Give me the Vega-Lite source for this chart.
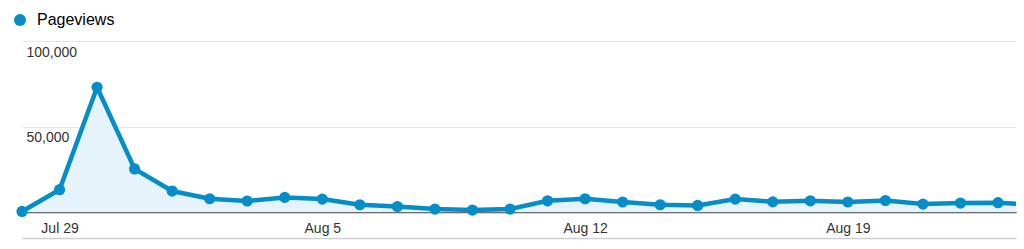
{
  "$schema": "https://vega.github.io/schema/vega-lite/v6.json",
  "width": 994,
  "height": 197,
  "autosize": {"type": "none"},
  "padding": {"left": 22, "top": 41, "right": 8, "bottom": 11},
  "background": "white",
  "config": {"view": {"stroke": null}, "font": "Liberation Sans"},
  "data": {
    "values": [
      {"date": "2013-07-28", "series": "Pageviews", "pageviews": 500},
      {"date": "2013-07-29", "series": "Pageviews", "pageviews": 13200},
      {"date": "2013-07-30", "series": "Pageviews", "pageviews": 73000},
      {"date": "2013-07-31", "series": "Pageviews", "pageviews": 25300},
      {"date": "2013-08-01", "series": "Pageviews", "pageviews": 12400},
      {"date": "2013-08-02", "series": "Pageviews", "pageviews": 7900},
      {"date": "2013-08-03", "series": "Pageviews", "pageviews": 6600},
      {"date": "2013-08-04", "series": "Pageviews", "pageviews": 8700},
      {"date": "2013-08-05", "series": "Pageviews", "pageviews": 7700},
      {"date": "2013-08-06", "series": "Pageviews", "pageviews": 4400},
      {"date": "2013-08-07", "series": "Pageviews", "pageviews": 3400},
      {"date": "2013-08-08", "series": "Pageviews", "pageviews": 1900},
      {"date": "2013-08-09", "series": "Pageviews", "pageviews": 1300},
      {"date": "2013-08-10", "series": "Pageviews", "pageviews": 1900},
      {"date": "2013-08-11", "series": "Pageviews", "pageviews": 6700},
      {"date": "2013-08-12", "series": "Pageviews", "pageviews": 7900},
      {"date": "2013-08-13", "series": "Pageviews", "pageviews": 6000},
      {"date": "2013-08-14", "series": "Pageviews", "pageviews": 4400},
      {"date": "2013-08-15", "series": "Pageviews", "pageviews": 4000},
      {"date": "2013-08-16", "series": "Pageviews", "pageviews": 7700},
      {"date": "2013-08-17", "series": "Pageviews", "pageviews": 6100},
      {"date": "2013-08-18", "series": "Pageviews", "pageviews": 6700},
      {"date": "2013-08-19", "series": "Pageviews", "pageviews": 6000},
      {"date": "2013-08-20", "series": "Pageviews", "pageviews": 6900},
      {"date": "2013-08-21", "series": "Pageviews", "pageviews": 4800},
      {"date": "2013-08-22", "series": "Pageviews", "pageviews": 5400},
      {"date": "2013-08-23", "series": "Pageviews", "pageviews": 5600},
      {"date": "2013-08-24", "series": "Pageviews", "pageviews": 4400}
    ]
  },
  "encoding": {
    "x": {
      "field": "date",
      "type": "temporal",
      "scale": {
        "type": "utc",
        "domain": [
          {"year": 2013, "month": 7, "date": 28, "utc": true},
          {"year": 2013, "month": 8, "date": 23, "hours": 11, "minutes": 30, "utc": true}
        ]
      },
      "axis": {
        "title": null,
        "values": [
          {"year": 2013, "month": 7, "date": 29, "utc": true},
          {"year": 2013, "month": 8, "date": 5, "utc": true},
          {"year": 2013, "month": 8, "date": 12, "utc": true},
          {"year": 2013, "month": 8, "date": 19, "utc": true}
        ],
        "labelExpr": "utcFormat(datum.value, '%b %-d')",
        "ticks": false,
        "tickSize": 0,
        "grid": false,
        "domainColor": "#d0d0d0",
        "domainWidth": 1.5,
        "labelFont": "Liberation Sans",
        "labelFontSize": 14,
        "labelColor": "#333333",
        "labelPadding": -17,
        "labelFlush": false,
        "labelOverlap": false
      }
    },
    "y": {
      "field": "pageviews",
      "type": "quantitative",
      "scale": {"domain": [-15000, 100000], "nice": false, "zero": false},
      "axis": {
        "title": null,
        "values": [0, 50000, 100000],
        "labelExpr": "datum.value === 0 ? '' : format(datum.value, ',')",
        "ticks": false,
        "tickSize": 0,
        "domain": false,
        "grid": true,
        "gridColor": {"condition": {"test": "datum.value === 0", "value": "#444444"}, "value": "#e6e6e6"},
        "gridWidth": {"condition": {"test": "datum.value === 0", "value": 1.5}, "value": 1},
        "labelAlign": "left",
        "labelBaseline": "middle",
        "labelPadding": -4,
        "labelOffset": 11,
        "labelFont": "Liberation Sans",
        "labelFontSize": 14,
        "labelColor": "#333333"
      }
    }
  },
  "layer": [
    {
      "mark": {"type": "area", "color": "#e6f3fa", "clip": true},
      "encoding": {"y2": {"datum": 0}}
    },
    {
      "mark": {"type": "line", "color": "#058dc7", "strokeWidth": 4.5, "clip": true}
    },
    {
      "mark": {"type": "point", "filled": true, "opacity": 1, "size": 125, "shape": "circle"},
      "encoding": {
        "color": {
          "field": "series",
          "type": "nominal",
          "scale": {"range": ["#058dc7"]},
          "legend": {
            "title": null,
            "orient": "none",
            "legendX": -10,
            "legendY": -29,
            "padding": 0,
            "symbolType": "circle",
            "symbolSize": 144,
            "symbolStrokeWidth": 0,
            "symbolOpacity": 1,
            "labelFont": "Liberation Sans",
            "labelFontSize": 16,
            "labelColor": "#000000",
            "labelOffset": 9
          }
        }
      }
    }
  ]
}
